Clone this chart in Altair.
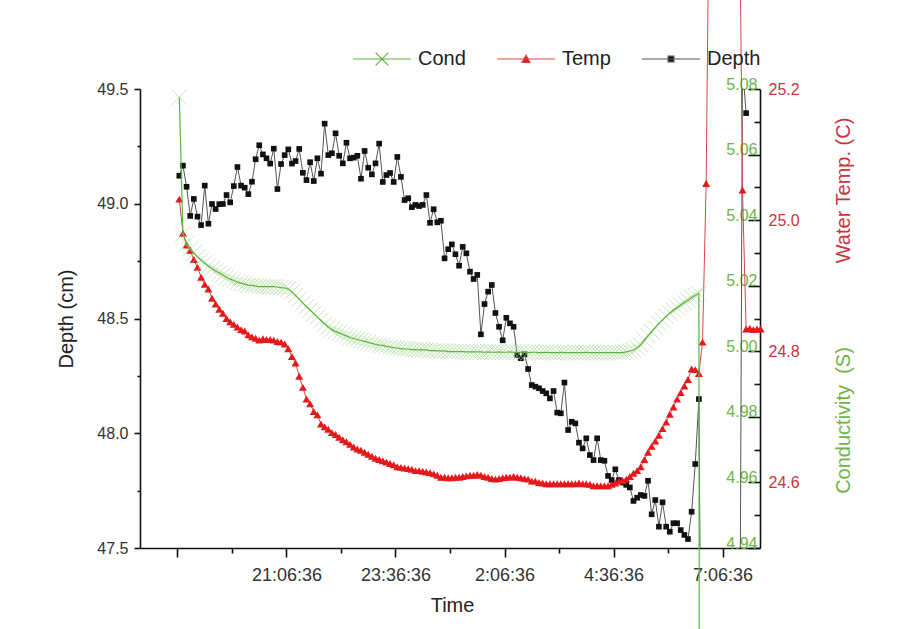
import altair as alt
import pandas as pd

# ---------------- data ----------------
# samples every 5 minutes; time in hours after 18:36:36
first_sample_h = 2.5 / 60
step_h = 5 / 60

depth_cm = [
    49.122, 49.166, 49.074, 48.947, 49.021, 48.944, 48.907, 49.079, 48.913, 48.999,
    48.977, 48.998, 48.999, 49.038, 49.006, 49.077, 49.160, 49.079, 49.070, 49.042,
    49.096, 49.194, 49.255, 49.215, 49.198, 49.175, 49.240, 49.064, 49.173, 49.212,
    49.237, 49.175, 49.186, 49.239, 49.135, 49.103, 49.181, 49.099, 49.198, 49.131,
    49.349, 49.212, 49.220, 49.307, 49.209, 49.176, 49.266, 49.198, 49.201, 49.209,
    49.109, 49.230, 49.157, 49.128, 49.176, 49.262, 49.095, 49.125, 49.134, 49.095,
    49.204, 49.117, 49.016, 49.024, 48.985, 48.995, 48.990, 48.995, 49.038, 48.917,
    48.976, 48.919, 48.926, 48.762, 48.802, 48.823, 48.780, 48.730, 48.812, 48.784,
    48.704, 48.672, 48.690, 48.431, 48.563, 48.617, 48.646, 48.524, 48.464, 48.405,
    48.503, 48.479, 48.464, 48.341, 48.327, 48.344, 48.280, 48.210, 48.203, 48.196,
    48.184, 48.174, 48.152, 48.184, 48.090, 48.087, 48.221, 48.014, 48.050, 48.043,
    47.959, 47.934, 47.978, 47.905, 47.883, 47.978, 47.883, 47.880, 47.814, 47.796,
    47.843, 47.796, 47.785, 47.775, 47.764, 47.705, 47.719, 47.731, 47.727, 47.793,
    47.647, 47.709, 47.593, 47.699, 47.593, 47.571, 47.608, 47.608, 47.578, 47.557,
    47.539, 47.658, 47.866, 48.149,
    46.0, 46.0, 46.0, 46.0, 46.0, 46.0, 46.0, 46.0, 46.0, 46.0, 46.0,
    49.6, 49.395,
]

temp_c = [
    25.032, 24.980, 24.962, 24.954, 24.940, 24.928, 24.913, 24.902, 24.895, 24.881,
    24.872, 24.864, 24.858, 24.850, 24.845, 24.841, 24.837, 24.833, 24.831, 24.825,
    24.822, 24.820, 24.817, 24.819, 24.818, 24.818, 24.817, 24.815, 24.814, 24.811,
    24.804, 24.792, 24.782, 24.762, 24.745, 24.727, 24.720, 24.708, 24.703, 24.689,
    24.685, 24.681, 24.676, 24.673, 24.669, 24.665, 24.662, 24.658, 24.654, 24.651,
    24.649, 24.646, 24.643, 24.640, 24.637, 24.635, 24.633, 24.631, 24.629, 24.627,
    24.624, 24.623, 24.622, 24.621, 24.620, 24.618, 24.618, 24.617, 24.616, 24.615,
    24.613, 24.611, 24.608, 24.608, 24.607, 24.607, 24.608, 24.608, 24.609, 24.610,
    24.611, 24.611, 24.612, 24.611, 24.609, 24.608, 24.606, 24.605, 24.606, 24.607,
    24.608, 24.608, 24.609, 24.608, 24.607, 24.606, 24.605, 24.602, 24.602, 24.600,
    24.599, 24.598, 24.598, 24.598, 24.598, 24.598, 24.598, 24.598, 24.598, 24.598,
    24.599, 24.598, 24.598, 24.597, 24.595, 24.595, 24.595, 24.595, 24.595, 24.597,
    24.599, 24.602, 24.603, 24.605, 24.609, 24.614, 24.618, 24.624, 24.635, 24.646,
    24.655, 24.663, 24.672, 24.682, 24.692, 24.704, 24.715, 24.727, 24.737, 24.747,
    24.757, 24.773, 24.772, 24.766, 24.814, 25.056,
    25.6, 25.6, 25.6, 25.6, 25.6, 25.6, 25.6, 25.6, 25.6,
    25.046, 24.834, 24.835, 24.833, 24.834, 24.834,
]

cond_s = [
    5.0775, 5.0358, 5.0330, 5.0312, 5.0300, 5.0287, 5.0278, 5.0269, 5.0260, 5.0252,
    5.0245, 5.0239, 5.0233, 5.0226, 5.0220, 5.0216, 5.0211, 5.0208, 5.0205, 5.0202,
    5.0201, 5.0199, 5.0197, 5.0197, 5.0197, 5.0197, 5.0197, 5.0196, 5.0194, 5.0193,
    5.0190, 5.0181, 5.0170, 5.0159, 5.0147, 5.0136, 5.0126, 5.0115, 5.0104, 5.0094,
    5.0083, 5.0074, 5.0066, 5.0060, 5.0056, 5.0051, 5.0047, 5.0042, 5.0039, 5.0036,
    5.0033, 5.0030, 5.0027, 5.0024, 5.0021, 5.0019, 5.0018, 5.0015, 5.0013, 5.0011,
    5.0010, 5.0008, 5.0007, 5.0007, 5.0005, 5.0005, 5.0004, 5.0004, 5.0004, 5.0002,
    5.0002, 5.0001, 5.0001, 5.0001, 4.9999, 4.9999, 4.9999, 4.9999, 4.9999, 4.9998,
    4.9998, 4.9998, 4.9998, 4.9998, 4.9997, 4.9998, 4.9997, 4.9997, 4.9998, 4.9997,
    4.9997, 4.9998, 4.9997, 4.9997, 4.9997, 4.9997, 4.9996, 4.9997, 4.9997, 4.9996,
    4.9996, 4.9997, 4.9996, 4.9996, 4.9996, 4.9997, 4.9996, 4.9996, 4.9996, 4.9996,
    4.9996, 4.9996, 4.9997, 4.9996, 4.9996, 4.9996, 4.9996, 4.9996, 4.9996, 4.9996,
    4.9996, 4.9996, 4.9996, 4.9998, 5.0001, 5.0004, 5.0010, 5.0019, 5.0034, 5.0048,
    5.0060, 5.0072, 5.0085, 5.0095, 5.0106, 5.0117, 5.0126, 5.0133, 5.0141, 5.0149,
    5.0156, 5.0164, 5.0170, 5.0176,
    4.0,
]

series_names = ["Cond", "Temp", "Depth"]

# time axis ticks (hours after 18:36:36)
tick_hours = [0, 1.25, 2.5, 3.75, 5, 6.25, 7.5, 8.75, 10, 11.25, 12.5]
major_hours = [2.5, 5, 7.5, 10, 12.5]
major_labels = ["21:06:36", "23:36:36", "2:06:36", "4:36:36", "7:06:36"]

depth_ticks = [47.5 + 0.25 * i for i in range(9)]
cond_ticks = [round(4.94 + 0.01 * i, 2) for i in range(15)]
temp_ticks = [24.6, 24.8, 25.0, 25.2]

# ---------------- tables ----------------
def frame(values):
    return pd.DataFrame({
        "t": [first_sample_h + i * step_h for i in range(len(values))],
        "v": values,
    })

depth_df = frame(depth_cm)
temp_df = frame(temp_c)
cond_df = frame(cond_s)
long_df = pd.concat([
    frame(cond_s).assign(series="Cond"),
    frame(temp_c).assign(series="Temp"),
    frame(depth_cm).assign(series="Depth"),
])

# ---------------- styling ----------------
FONT = "Liberation Sans"
W, H = 620, 459
X_DOMAIN = [-0.86, 13.36]
GREEN_LINE = "#5db53c"
GREEN_MARK = "#a6d694"
GREEN_TEXT = "#6fb446"
RED_MARK = "#e3191c"
RED_LINE = "#d44a4a"
RED_TEXT = "#c9353a"

label_expr = "''"
for h, lab in reversed(list(zip(major_hours, major_labels))):
    label_expr = f"datum.value == {h} ? '{lab}' : ({label_expr})"

x_axis = alt.Axis(
    values=tick_hours, labelExpr=label_expr, grid=False,
    domainColor="#111", domainWidth=1.6, tickColor="#111", tickWidth=1.6,
    tickSize={"condition": {"test": "datum.value % 2.5 == 0", "value": 9}, "value": 5},
    labelFont=FONT, labelFontSize=18, labelColor="#333", labelPadding=9,
    labelFlush=False, labelOverlap=False,
    title="Time", titleFont=FONT, titleFontSize=20, titleFontWeight="normal",
    titleColor="#222", titleX=312, titleY=57, titleAlign="center", titleBaseline="middle",
)
X = alt.X("t:Q", scale=alt.Scale(domain=X_DOMAIN, nice=False, zero=False), axis=x_axis)

def yscale(domain):
    return alt.Scale(domain=domain, nice=False, zero=False)

DEPTH_DOM = [47.5, 49.5]
TEMP_DOM = [24.5, 25.2]
COND_DOM = [4.94, 5.08]

depth_axis = alt.Axis(
    orient="left", values=depth_ticks, grid=False,
    labelExpr="datum.value % 0.5 == 0 ? format(datum.value, '.1f') : ''",
    domainColor="#111", domainWidth=1.6, tickColor="#111", tickWidth=1.6,
    tickSize={"condition": {"test": "datum.value % 0.5 == 0", "value": 6}, "value": 3},
    labelFont=FONT, labelFontSize=16, labelColor="#333", labelPadding=6,
    labelFlush=False, labelOverlap=False,
    title="Depth (cm)", titleFont=FONT, titleFontSize=20, titleFontWeight="normal",
    titleColor="#222", titleAngle=270, titleX=-74, titleY=H / 2,
    titleAlign="center", titleBaseline="middle",
)

cond_axis = alt.Axis(
    orient="left", offset=-W, values=cond_ticks, grid=False,
    labelExpr="round(datum.value * 100) % 2 == 0 ? format(datum.value, '.2f') : ''",
    domainColor="#111", domainWidth=1.6, tickColor="#111", tickWidth=1.6,
    tickSize={"condition": {"test": "round(datum.value * 100) % 2 == 0", "value": 12}, "value": 6},
    labelFont=FONT, labelFontSize=16, labelColor=GREEN_TEXT, labelPadding=-9,
    labelBaseline="alphabetic", labelFlush=False, labelOverlap=False,
    title="Conductivity\u00a0\u00a0(S)", titleFont=FONT, titleFontSize=20,
    titleFontWeight="normal", titleColor=GREEN_TEXT, titleAngle=270,
    titleX=83, titleY=331, titleAlign="center", titleBaseline="middle",
)

temp_axis = alt.Axis(
    orient="right", values=temp_ticks, format=".1f", grid=False,
    domain=False, ticks=False,
    labelFont=FONT, labelFontSize=16, labelColor=RED_TEXT, labelPadding=8,
    labelFlush=False, labelOverlap=False,
    title="Water Temp. (C)", titleFont=FONT, titleFontSize=20,
    titleFontWeight="normal", titleColor=RED_TEXT, titleAngle=270,
    titleX=83, titleY=101, titleAlign="center", titleBaseline="middle",
)

X_PATH = "M-1,-1L1,1M-1,1L1,-1"

depth_line = alt.Chart(depth_df).mark_line(color="#555", strokeWidth=1, clip=True).encode(
    x=X, y=alt.Y("v:Q", scale=yscale(DEPTH_DOM), axis=None))
depth_pts = alt.Chart(depth_df).mark_point(
    shape="square", filled=True, color="#111", size=32, opacity=1, clip=True
).encode(x=X, y=alt.Y("v:Q", scale=yscale(DEPTH_DOM), axis=depth_axis))

temp_line = alt.Chart(temp_df).mark_line(color=RED_LINE, strokeWidth=1).encode(
    x=X, y=alt.Y("v:Q", scale=yscale(TEMP_DOM), axis=None))
temp_pts = alt.Chart(temp_df).mark_point(
    shape="triangle-up", filled=True, color=RED_MARK, size=64, opacity=1
).encode(x=X, y=alt.Y("v:Q", scale=yscale(TEMP_DOM), axis=temp_axis))

cond_pts = alt.Chart(cond_df).mark_point(
    shape=X_PATH, filled=False, color=GREEN_MARK, size=240, strokeWidth=1, opacity=0.6
).encode(x=X, y=alt.Y("v:Q", scale=yscale(COND_DOM), axis=cond_axis))
cond_line = alt.Chart(cond_df).mark_line(color=GREEN_LINE, strokeWidth=1.2).encode(
    x=X, y=alt.Y("v:Q", scale=yscale(COND_DOM), axis=None))

legend_paths = [
    "M-1,0H1M-0.22,-0.22L0.22,0.22M-0.22,0.22L0.22,-0.22",
    "M-1,0H1M-0.14,0.12L0,-0.13L0.14,0.12Z",
    "M-1,0H1M-0.1,-0.1H0.1V0.1H-0.1Z",
]
legend_def = alt.Legend(
    orient="none", legendX=212, legendY=-60, direction="horizontal", title=None,
    symbolSize=3364, symbolStrokeWidth=1.2, symbolOpacity=1, padding=0,
    labelFont=FONT, labelFontSize=20, labelColor="#222", labelOffset=6,
    columnPadding=28,
)
legend_layer = alt.Chart(long_df).mark_point(opacity=0, filled=True, size=3364).encode(
    x=X,
    y=alt.Y("v:Q", scale=alt.Scale(zero=False), axis=None),
    fill=alt.Fill("series:N", scale=alt.Scale(domain=series_names,
                  range=["#ffffff", RED_MARK, "#111111"]), legend=legend_def),
    stroke=alt.Stroke("series:N", scale=alt.Scale(domain=series_names,
                      range=[GREEN_LINE, RED_LINE, "#555555"]), legend=legend_def),
    shape=alt.Shape("series:N", scale=alt.Scale(domain=series_names, range=legend_paths),
                    legend=legend_def),
)

chart = alt.layer(
    depth_line, depth_pts, temp_line, temp_pts, cond_pts, cond_line, legend_layer
).resolve_scale(y="independent").properties(
    width=W, height=H,
    autosize=alt.AutoSizeParams(type="none"),
    padding={"left": 140, "top": 89, "right": 143, "bottom": 81},
    background="white",
).configure_view(strokeWidth=0)

chart.save("out.html", embed_options={"renderer": "svg", "actions": False})
